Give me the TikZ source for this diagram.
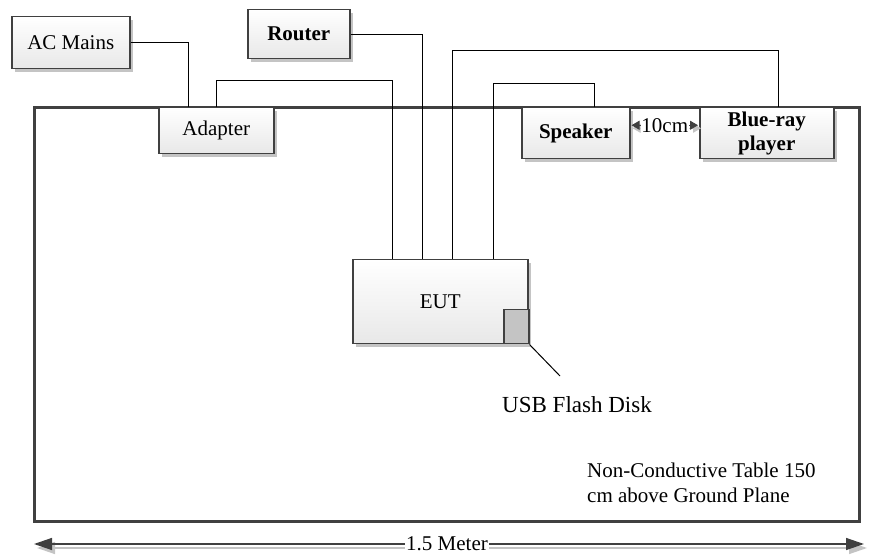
\documentclass[tikz,border=0pt]{standalone}
\usepackage{fontspec}
\setmainfont{LiberationSerif}[Extension=.ttf, UprightFont=*-Regular, BoldFont=*-Bold, ItalicFont=*-Italic, BoldItalicFont=*-BoldItalic]
\usetikzlibrary{shadows,calc,arrows.meta}
\definecolor{edge}{HTML}{404040}
\definecolor{shad}{HTML}{C4C4C4}
\tikzset{
  box/.style={draw=edge, line width=1.5pt, top color=white, bottom color=black!9,
    anchor=north west, inner sep=0pt, align=center,
    font=\fontsize{21}{24}\selectfont,
    drop shadow={shadow xshift=3pt, shadow yshift=-3pt, fill=shad, opacity=1}},
  wire/.style={draw=black, line width=0.8pt},
  lbl/.style={inner sep=0pt, font=\fontsize{21}{25}\selectfont},
  dimline/.style={draw=edge, line width=1.4pt, {Triangle[length=18pt,width=12pt]}-{Triangle[length=18pt,width=12pt]}},
  dimshadow/.style={draw=shad, line width=1.4pt, {Triangle[length=18pt,width=12pt]}-{Triangle[length=18pt,width=12pt]}},
  smalldim/.style={draw=edge, line width=1pt, {Triangle[length=8pt,width=9pt]}-{Triangle[length=8pt,width=9pt]}},
  smallshadow/.style={draw=shad, line width=1pt, {Triangle[length=8pt,width=9pt]}-{Triangle[length=8pt,width=9pt]}},
}
\begin{document}
\begin{tikzpicture}[x=1pt,y=-1pt]
\useasboundingbox (0,0) rectangle (879,556);
% table
\node[draw=edge, line width=3.2pt, anchor=north west, minimum width=825pt, minimum height=414pt, inner sep=0pt] (table) at (33,106) {};
\node[lbl, anchor=north west, align=left] (tabletext) at (587,462.5) {Non-Conductive Table 150\\cm above Ground Plane};
% boxes
\node[box, minimum width=118pt, minimum height=52pt] (acm) at (11,16) {AC Mains};
\node[box, minimum width=102pt, minimum height=49pt] (router) at (247,9) {\bfseries Router};
\node[box, minimum width=115pt, minimum height=46pt] (adapter) at (158,107) {Adapter};
\node[box, minimum width=108pt, minimum height=51pt] (speaker) at (521,107) {\bfseries Speaker};
\node[box, minimum width=134pt, minimum height=51pt] (bluray) at (699,107) {\bfseries Blue-ray\\\bfseries player};
\node[box, minimum width=175pt, minimum height=84pt] (eut) at (352,259) {EUT};
\node[draw=edge, line width=1.5pt, fill=shad, anchor=north west, minimum width=25pt, minimum height=34pt, inner sep=0pt] (usb) at (503,309) {};
% wires
\draw[wire] (acm.east) -| ($(adapter.north west)+(30,0)$);
\draw[wire] ($(adapter.north west)+(58,0)$) -- ++(0,-27) -| ($(eut.north west)+(40,0)$);
\draw[wire] (router.east) -| ($(eut.north west)+(70,0)$);
\draw[wire] ($(bluray.north west)+(79,0)$) -- ++(0,-57) -| ($(eut.north west)+(100,0)$);
\draw[wire] ($(speaker.north west)+(73,0)$) -- ++(0,-24) -| ($(eut.north west)+(141,0)$);
% USB
\coordinate (usbend) at (560,376);
\draw[line width=1pt] (usb.south east) -- (usbend);
\node[inner sep=0pt, font=\fontsize{23}{26}\selectfont] (usblbl) at (577,405) {USB Flash Disk};
% 10cm
\draw[smallshadow] ($(speaker.east)+(2,-5)$) -- ($(bluray.west)+(2,-5)$);
\draw[smalldim] ($(speaker.east)+(1,-8)$) -- ($(bluray.west)+(-1,-8)$)
  node[midway, fill=white, inner sep=0.5pt, font=\fontsize{21}{24}\selectfont] (tencm) {10cm};
% 1.5 meter
\coordinate (ml) at (34,544);
\coordinate (mr) at (864,544);
\draw[dimshadow] ($(ml)+(3,4)$) -- ($(mr)+(3,4)$);
\draw[dimline] (ml) -- (mr);
\node[fill=white, inner sep=1pt, font=\fontsize{21}{24}\selectfont] (meter) at (447,544) {1.5 Meter};
\end{tikzpicture}
\end{document}
